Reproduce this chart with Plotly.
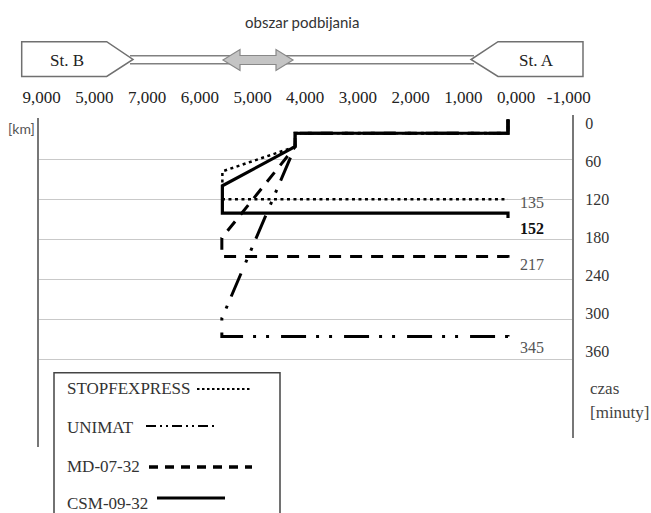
import plotly.graph_objects as go

# ---------------- data ----------------
machines = ["STOPFEXPRESS", "UNIMAT", "MD-07-32", "CSM-09-32"]

stopf_km = [0, 0, 4.04, 4.04, 5.42, 5.42, 0]
stopf_min = [0, 20.7, 20.7, 41, 78, 120, 120]

unimat_km = [0, 0, 4.04, 4.04, 5.43, 5.43, 0, 0]
unimat_min = [0, 20.7, 20.7, 41, 299, 326, 326, 337]

md_km = [0, 0, 4.04, 4.04, 5.43, 5.43, 0, 0]
md_min = [0, 20.7, 20.7, 41, 178, 206, 206, 219]

csm_km = [0, 0, 4.04, 4.04, 5.42, 5.42, 0, 0]
csm_min = [0, 20.7, 20.7, 40.8, 99.7, 140.7, 140.7, 148]

end_labels = ["135", "345", "217", "152"]

km_ticks = [9, 8, 7, 6, 5, 4, 3, 2, 1, 0, -1]
km_ticktext = ["9,000", "5,000", "7,000", "6,000", "5,000", "4,000",
               "3,000", "2,000", "1,000", "0,000", "-1,000"]
time_ticks = [0, 60, 120, 180, 240, 300, 360]
time_ticktext = [str(v) for v in time_ticks]

# ---------------- layout helpers ----------------
W, H = 651, 513
ML, MR, MT, MB = 38, 78, 119, 75
PW = W - ML - MR
PH = H - MT - MB

def px(xp):
    return (xp - ML) / PW

def py(yp):
    return (H - MB - yp) / PH

def path(points):
    s = "M " + " L ".join(f"{px(a):.5f},{py(b):.5f}" for a, b in points)
    return s + " Z"

SERIF = "Liberation Serif"
SANS = "Lato"

styles = {
    "STOPFEXPRESS": dict(color="black", width=2.5, dash="3px,3.5px"),
    "UNIMAT": dict(color="black", width=3, dash="25px,10px,3px,10px,3px,12px"),
    "MD-07-32": dict(color="black", width=3, dash="12px,9px"),
    "CSM-09-32": dict(color="black", width=3.2),
}

series = {
    "STOPFEXPRESS": (stopf_km, stopf_min),
    "UNIMAT": (unimat_km, unimat_min),
    "MD-07-32": (md_km, md_min),
    "CSM-09-32": (csm_km, csm_min),
}

fig = go.Figure()
for name in machines:
    xs, ys = series[name]
    fig.add_trace(go.Scatter(x=xs, y=ys, mode="lines", name=name,
                             line=styles[name], showlegend=False,
                             hoverinfo="skip"))
# empty trace so the label axes (top km / right minutes) get drawn
fig.add_trace(go.Scatter(x=[], y=[], xaxis="x2", yaxis="y2", showlegend=False,
                         hoverinfo="skip"))

# end-of-run labels
label_cfg = [("STOPFEXPRESS", -3.4, False), ("UNIMAT", -3.6, False),
             ("MD-07-32", 1, False), ("CSM-09-32", -11, True)]
annotations = []
for (name, ysh, bold), txt in zip(label_cfg, end_labels):
    xs, ys = series[name]
    annotations.append(dict(
        x=xs[-1], y=ys[-1], xref="x", yref="y", text=f"<b>{txt}</b>" if bold else txt,
        showarrow=False, xanchor="left", yanchor="middle", xshift=10, yshift=ysh,
        font=dict(family=SERIF, size=16, color="#111" if bold else "#555")))

# texts
annotations += [
    dict(x=px(302), y=py(22), xref="paper", yref="paper", text="obszar podbijania",
         showarrow=False, font=dict(family=SANS, size=15, color="#333"),
         xanchor="center", yanchor="middle"),
    dict(x=px(67), y=py(60), xref="paper", yref="paper", text="St. B",
         showarrow=False, font=dict(family=SERIF, size=17, color="#222"),
         xanchor="center", yanchor="middle"),
    dict(x=px(536), y=py(60), xref="paper", yref="paper", text="St. A",
         showarrow=False, font=dict(family=SERIF, size=17, color="#222"),
         xanchor="center", yanchor="middle"),
    dict(x=px(37), y=py(128), xref="paper", yref="paper", text="[km]",
         showarrow=False, font=dict(family=SANS, size=14, color="#555"),
         xanchor="right", yanchor="middle"),
    dict(x=px(588), y=py(388), xref="paper", yref="paper", text="czas",
         showarrow=False, font=dict(family=SERIF, size=17, color="#444"),
         xanchor="left", yanchor="middle"),
    dict(x=px(588), y=py(412), xref="paper", yref="paper", text="[minuty]",
         showarrow=False, font=dict(family=SERIF, size=17, color="#444"),
         xanchor="left", yanchor="middle"),
]

# custom legend (text first, then line sample)
legend_rows = [
    ("STOPFEXPRESS", 388, 197, 252, 389),
    ("UNIMAT", 427, 146, 218, 426),
    ("MD-07-32", 466, 149, 252, 467),
    ("CSM-09-32", 503, 157, 225, 498),
]
legend_styles = {
    "STOPFEXPRESS": dict(color="black", width=2.2, dash="2.5px,2.5px"),
    "UNIMAT": dict(color="black", width=2, dash="10px,4px,2px,4px,2px,4px"),
    "MD-07-32": dict(color="black", width=3.5, dash="9px,7px"),
    "CSM-09-32": dict(color="black", width=3),
}
shapes = []
for name, ty, x0, x1, ly in legend_rows:
    annotations.append(dict(x=px(65), y=py(ty), xref="paper", yref="paper", text=name,
                            showarrow=False, xanchor="left", yanchor="middle",
                            font=dict(family=SERIF, size=17, color="#333")))
    shapes.append(dict(type="line", xref="paper", yref="paper",
                       x0=px(x0), x1=px(x1), y0=py(ly), y1=py(ly),
                       line=legend_styles[name]))
shapes.append(dict(type="rect", xref="paper", yref="paper", x0=px(54), x1=px(280),
                   y0=py(372.7), y1=py(530), line=dict(color="#444", width=1.5),
                   layer="below"))

# axis lines
shapes.append(dict(type="line", xref="paper", yref="paper", x0=px(38), x1=px(38),
                   y0=py(118), y1=py(447), line=dict(color="#777", width=2)))
shapes.append(dict(type="line", xref="paper", yref="paper", x0=px(573), x1=px(573),
                   y0=py(115), y1=py(438), line=dict(color="#777", width=2)))

# track diagram
shapes.append(dict(type="line", xref="paper", yref="paper", x0=px(130), x1=px(474),
                   y0=py(55.7), y1=py(55.7), line=dict(color="#808080", width=1.6)))
shapes.append(dict(type="line", xref="paper", yref="paper", x0=px(130), x1=px(474),
                   y0=py(63.8), y1=py(63.8), line=dict(color="#808080", width=1.6)))
shapes.append(dict(type="path", xref="paper", yref="paper",
                   path=path([(21.7, 41.7), (106.7, 41.7), (133, 59.5), (106.7, 76.5), (21.7, 76.5)]),
                   fillcolor="white", line=dict(color="#707070", width=1.5)))
shapes.append(dict(type="path", xref="paper", yref="paper",
                   path=path([(583, 41.7), (498, 41.7), (471, 59.5), (498, 76.5), (583, 76.5)]),
                   fillcolor="white", line=dict(color="#707070", width=1.5)))
shapes.append(dict(type="path", xref="paper", yref="paper",
                   path=path([(223, 60), (240, 49.5), (240, 55.5), (276, 55.5), (276, 49.5),
                              (293, 60), (276, 70.5), (276, 64.5), (240, 64.5), (240, 70.5)]),
                   fillcolor="#c4c4c4", line=dict(color="#888", width=1.2)))

x_px_per_km = 52.7
fig.update_layout(
    width=W, height=H,
    margin=dict(l=ML, r=MR, t=MT, b=MB, pad=0),
    paper_bgcolor="white", plot_bgcolor="white",
    showlegend=False,
    xaxis=dict(range=[(508 - 38) / x_px_per_km, (508 - 573) / x_px_per_km],
               showgrid=False, zeroline=False, showline=False, showticklabels=False,
               ticks=""),
    xaxis2=dict(overlaying="x", side="top", anchor="y2",
                range=[(516 - 38) / x_px_per_km, (516 - 573) / x_px_per_km],
                tickmode="array", tickvals=km_ticks, ticktext=km_ticktext,
                showgrid=False, zeroline=False, showline=False,
                ticks="outside", ticklen=8, tickcolor="rgba(0,0,0,0)",
                tickfont=dict(family=SERIF, size=17, color="#222")),
    yaxis=dict(range=[(438 - 119.5) / 0.6653, (119 - 119.5) / 0.6653],
               tickmode="array", tickvals=time_ticks, showticklabels=False,
               showgrid=True, gridcolor="#c9c9c9", gridwidth=1.4,
               zeroline=False, showline=False, ticks=""),
    yaxis2=dict(overlaying="y", side="right", anchor="x2",
                range=[(438 - 123) / 0.6353, (119 - 123) / 0.6353],
                tickmode="array", tickvals=time_ticks, ticktext=time_ticktext,
                showgrid=False, zeroline=False, showline=False,
                ticks="outside", ticklen=8, tickcolor="rgba(0,0,0,0)",
                tickfont=dict(family=SERIF, size=16, color="#333")),
    annotations=annotations,
    shapes=shapes,
)

fig.write_html("out.html", config={"displayModeBar": False},
               post_script="document.body.style.margin='0';document.body.style.overflow='hidden';")
